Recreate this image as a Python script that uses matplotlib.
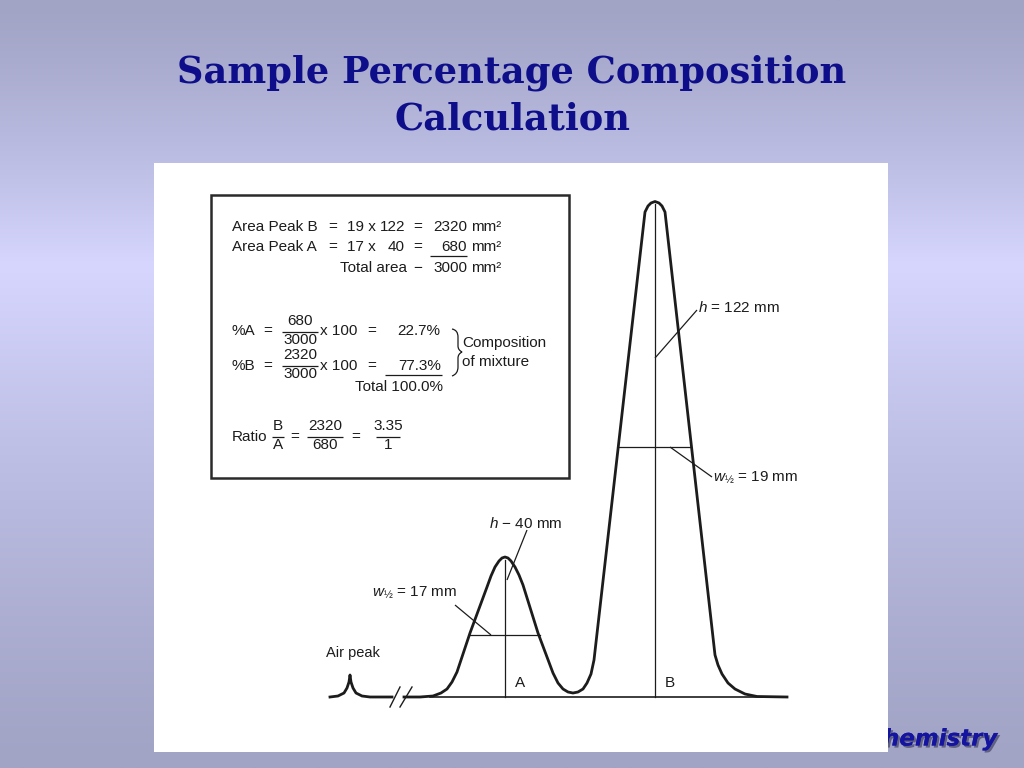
import matplotlib
matplotlib.use("Agg")
import numpy as np
import matplotlib.pyplot as plt
from matplotlib.patches import Rectangle, PathPatch
from matplotlib.path import Path
import matplotlib.patheffects as pe

# ---------------- data ----------------
# detector trace, time (arbitrary units) vs response (arbitrary units)
air_t = [176, 184, 190, 193, 195, 196, 197, 199, 202, 208, 216, 238]
air_s = [0, 1, 4, 9, 15, 22, 15, 9, 4, 1, 0, 0]
trace_t = [250, 266, 279, 287, 293, 298, 303, 316, 333, 337, 341, 345, 348, 351,
           354, 357, 361, 365, 369, 384, 399, 404, 409, 414, 419, 424, 429, 433,
           437, 440, 491, 494, 497, 501, 505, 508, 511, 561, 564, 568, 574,
           581, 591, 603, 633]
trace_s = [0, 0, 1, 4, 8, 15, 25, 64, 110, 121, 130, 136, 139, 140,
           139, 136, 130, 122, 112, 64, 24, 14, 8, 5, 4, 5, 8, 14,
           23, 37, 485, 491, 494, 495.5, 494, 491, 485, 42, 32, 23, 14,
           8, 3, 0.5, 0]
peak_names = ["A", "B"]
peak_t = [351, 501]          # retention positions
peak_top = [137, 493]        # top of drawn height marker
half_s = [62, 250]           # half-height level
half_left = [316, 465]
half_right = [386, 536]

# ---------------- figure ----------------
W, H = 1024, 768
fig = plt.figure(figsize=(W / 100, H / 100), dpi=100)

# gradient background
bg = fig.add_axes([0, 0, 1, 1], zorder=-10)
yy = np.linspace(0, 1, 400)
c_edge = np.array([162, 164, 198]) / 255
c_mid = np.array([214, 214, 255]) / 255
peak = 265 / 768
w = np.where(yy < peak, yy / peak, (1 - yy) / (1 - peak))
w = np.clip(w, 0, 1) ** 1.3
img = c_edge[None, :] * (1 - w[:, None]) + c_mid[None, :] * w[:, None]
bg.imshow(img[:, None, :], aspect="auto", extent=[0, 1, 1, 0])
bg.axis("off")

# title
title_kw = dict(ha="center", va="center", fontsize=26.5, fontweight="bold",
                family="DejaVu Serif", color="#0e0e8a")
fig.text(0.5, 1 - 73 / H, "Sample Percentage Composition", **title_kw)
fig.text(0.5, 1 - 120 / H, "Calculation", **title_kw)

# footer (partly hidden by the panel)
fig.text(997 / W, 1 - 739 / H, "Chemistry", ha="right", va="center",
         fontsize=16.5, fontweight="bold", style="italic", family="DejaVu Sans",
         color="#1414a0", zorder=-1,
         path_effects=[pe.withSimplePatchShadow(offset=(1.5, -1.5),
                                                shadow_rgbFace="#505070", alpha=0.8),
                       pe.Normal()])

# white panel
x0, y0, x1, y1 = 154, 163, 888, 752
ax = fig.add_axes([x0 / W, 1 - y1 / H, (x1 - x0) / W, (y1 - y0) / H], zorder=1)
BASE = 697
ax.set_xlim(0, x1 - x0)
ax.set_ylim(BASE - y1, BASE - y0)
ax.set_facecolor("white")
for s in ax.spines.values():
    s.set_visible(False)
ax.set_xticks([])
ax.set_yticks([])

INK = "#1c1c1c"
FONT = "Liberation Sans"
FS = 11.0


def P(x, y):
    return x - x0, BASE - y


def T(x, y, s, ha="left", size=FS, **kw):
    px, py = P(x, y)
    ax.text(px, py, s, ha=ha, va="center", fontsize=size, family=FONT,
            color=INK, **kw)


def L(xs, ys, lw=1.0, color=INK):
    pts = [P(a, b) for a, b in zip(xs, ys)]
    ax.plot([p[0] for p in pts], [p[1] for p in pts], color=color, lw=lw,
            solid_capstyle="butt")


# ---- chromatogram ----
tw = 2.0
ax.plot(air_t, air_s, color=INK, lw=tw, solid_joinstyle="round")
ax.plot(trace_t, trace_s, color=INK, lw=tw, solid_joinstyle="round")
ax.plot([276, 633], [0, 0], color=INK, lw=1.2)
# break marks
ax.plot([236, 246], [-10, 10], color=INK, lw=1.0)
ax.plot([246, 258], [-10, 10], color=INK, lw=1.0)
for i in range(2):
    ax.plot([peak_t[i], peak_t[i]], [0, peak_top[i]], color=INK, lw=0.9)
    ax.plot([half_left[i], half_right[i]], [half_s[i], half_s[i]], color=INK, lw=0.9)
    ax.text(peak_t[i] + 15, 14, peak_names[i], ha="center", va="center",
            fontsize=11, family=FONT, color=INK)

plt.rcParams["mathtext.fontset"] = "custom"
plt.rcParams["mathtext.rm"] = FONT
plt.rcParams["mathtext.it"] = FONT + ":italic"

# annotations
L([655, 697], [358, 310], lw=0.9)
T(698, 308, r"$h$ = 122 mm")
L([670, 712], [447, 477], lw=0.9)
T(713, 478, r"$w_{½}$ = 19 mm")
L([507, 527], [580, 530], lw=0.9)
T(489, 524, r"$h$ − 40 mm")
L([491, 455], [635, 605], lw=0.9)
T(372, 593, r"$w_{½}$ = 17 mm")
T(353, 653, "Air peak", ha="center", size=10.5)

# ---- calculation box ----
bx0, by0, bx1, by1 = 211, 195, 569, 478
ax.add_patch(Rectangle(P(bx0, by1), bx1 - bx0, by1 - by0, fill=False,
                       ec="#2a2a2a", lw=1.8))

# area lines
T(232, 227, "Area Peak B")
T(333, 227, "=", ha="center")
T(347, 227, "19 x")
T(405, 227, "122", ha="right")
T(418, 227, "=", ha="center")
T(467, 227, "2320", ha="right")
T(471, 227, "mm²")

T(232, 247, "Area Peak A")
T(333, 247, "=", ha="center")
T(347, 247, "17 x")
T(405, 247, "40", ha="right")
T(418, 247, "=", ha="center")
T(467, 247, "680", ha="right")
T(471, 247, "mm²")
L([430, 467], [256, 256], lw=0.9)

T(407, 268, "Total area", ha="right")
T(418, 268, "−", ha="center")
T(467, 268, "3000", ha="right")
T(471, 268, "mm²")


def frac(xc, ybar, num, den, half):
    T(xc, ybar - 11, num, ha="center")
    T(xc, ybar + 8, den, ha="center")
    L([xc - half, xc + half], [ybar, ybar], lw=0.9)


# %A
T(232, 331, "%A")
T(268, 331, "=", ha="center")
frac(300, 332, "680", "3000", 18)
T(320, 331, "x 100")
T(372, 331, "=", ha="center")
T(440, 331, "22.7%", ha="right")
# %B
T(232, 366, "%B")
T(268, 366, "=", ha="center")
frac(300, 366, "2320", "3000", 18)
T(320, 366, "x 100")
T(372, 366, "=", ha="center")
T(441, 366, "77.3%", ha="right")
L([385, 442], [375, 375], lw=0.9)
T(443, 387, "Total 100.0%", ha="right")

# brace
bp = [P(452, 329), P(458, 330), P(458, 337), P(458, 346), P(458, 350), P(462, 352),
      P(458, 354), P(458, 358), P(458, 367), P(458, 374), P(452, 376)]
codes = [Path.MOVETO, Path.CURVE3, Path.CURVE3, Path.LINETO, Path.CURVE3, Path.CURVE3,
         Path.CURVE3, Path.CURVE3, Path.LINETO, Path.CURVE3, Path.CURVE3]
ax.add_patch(PathPatch(Path(bp, codes), fill=False, ec=INK, lw=0.9))
T(462, 343, "Composition")
T(462, 362, "of mixture")

# ratio
T(232, 437, "Ratio")
frac(278, 437, "B", "A", 6)
T(295, 437, "=", ha="center")
frac(325, 437, "2320", "680", 18)
T(356, 437, "=", ha="center")
frac(388, 437, "3.35", "1", 12)

fig.savefig("out.png", dpi=100)
